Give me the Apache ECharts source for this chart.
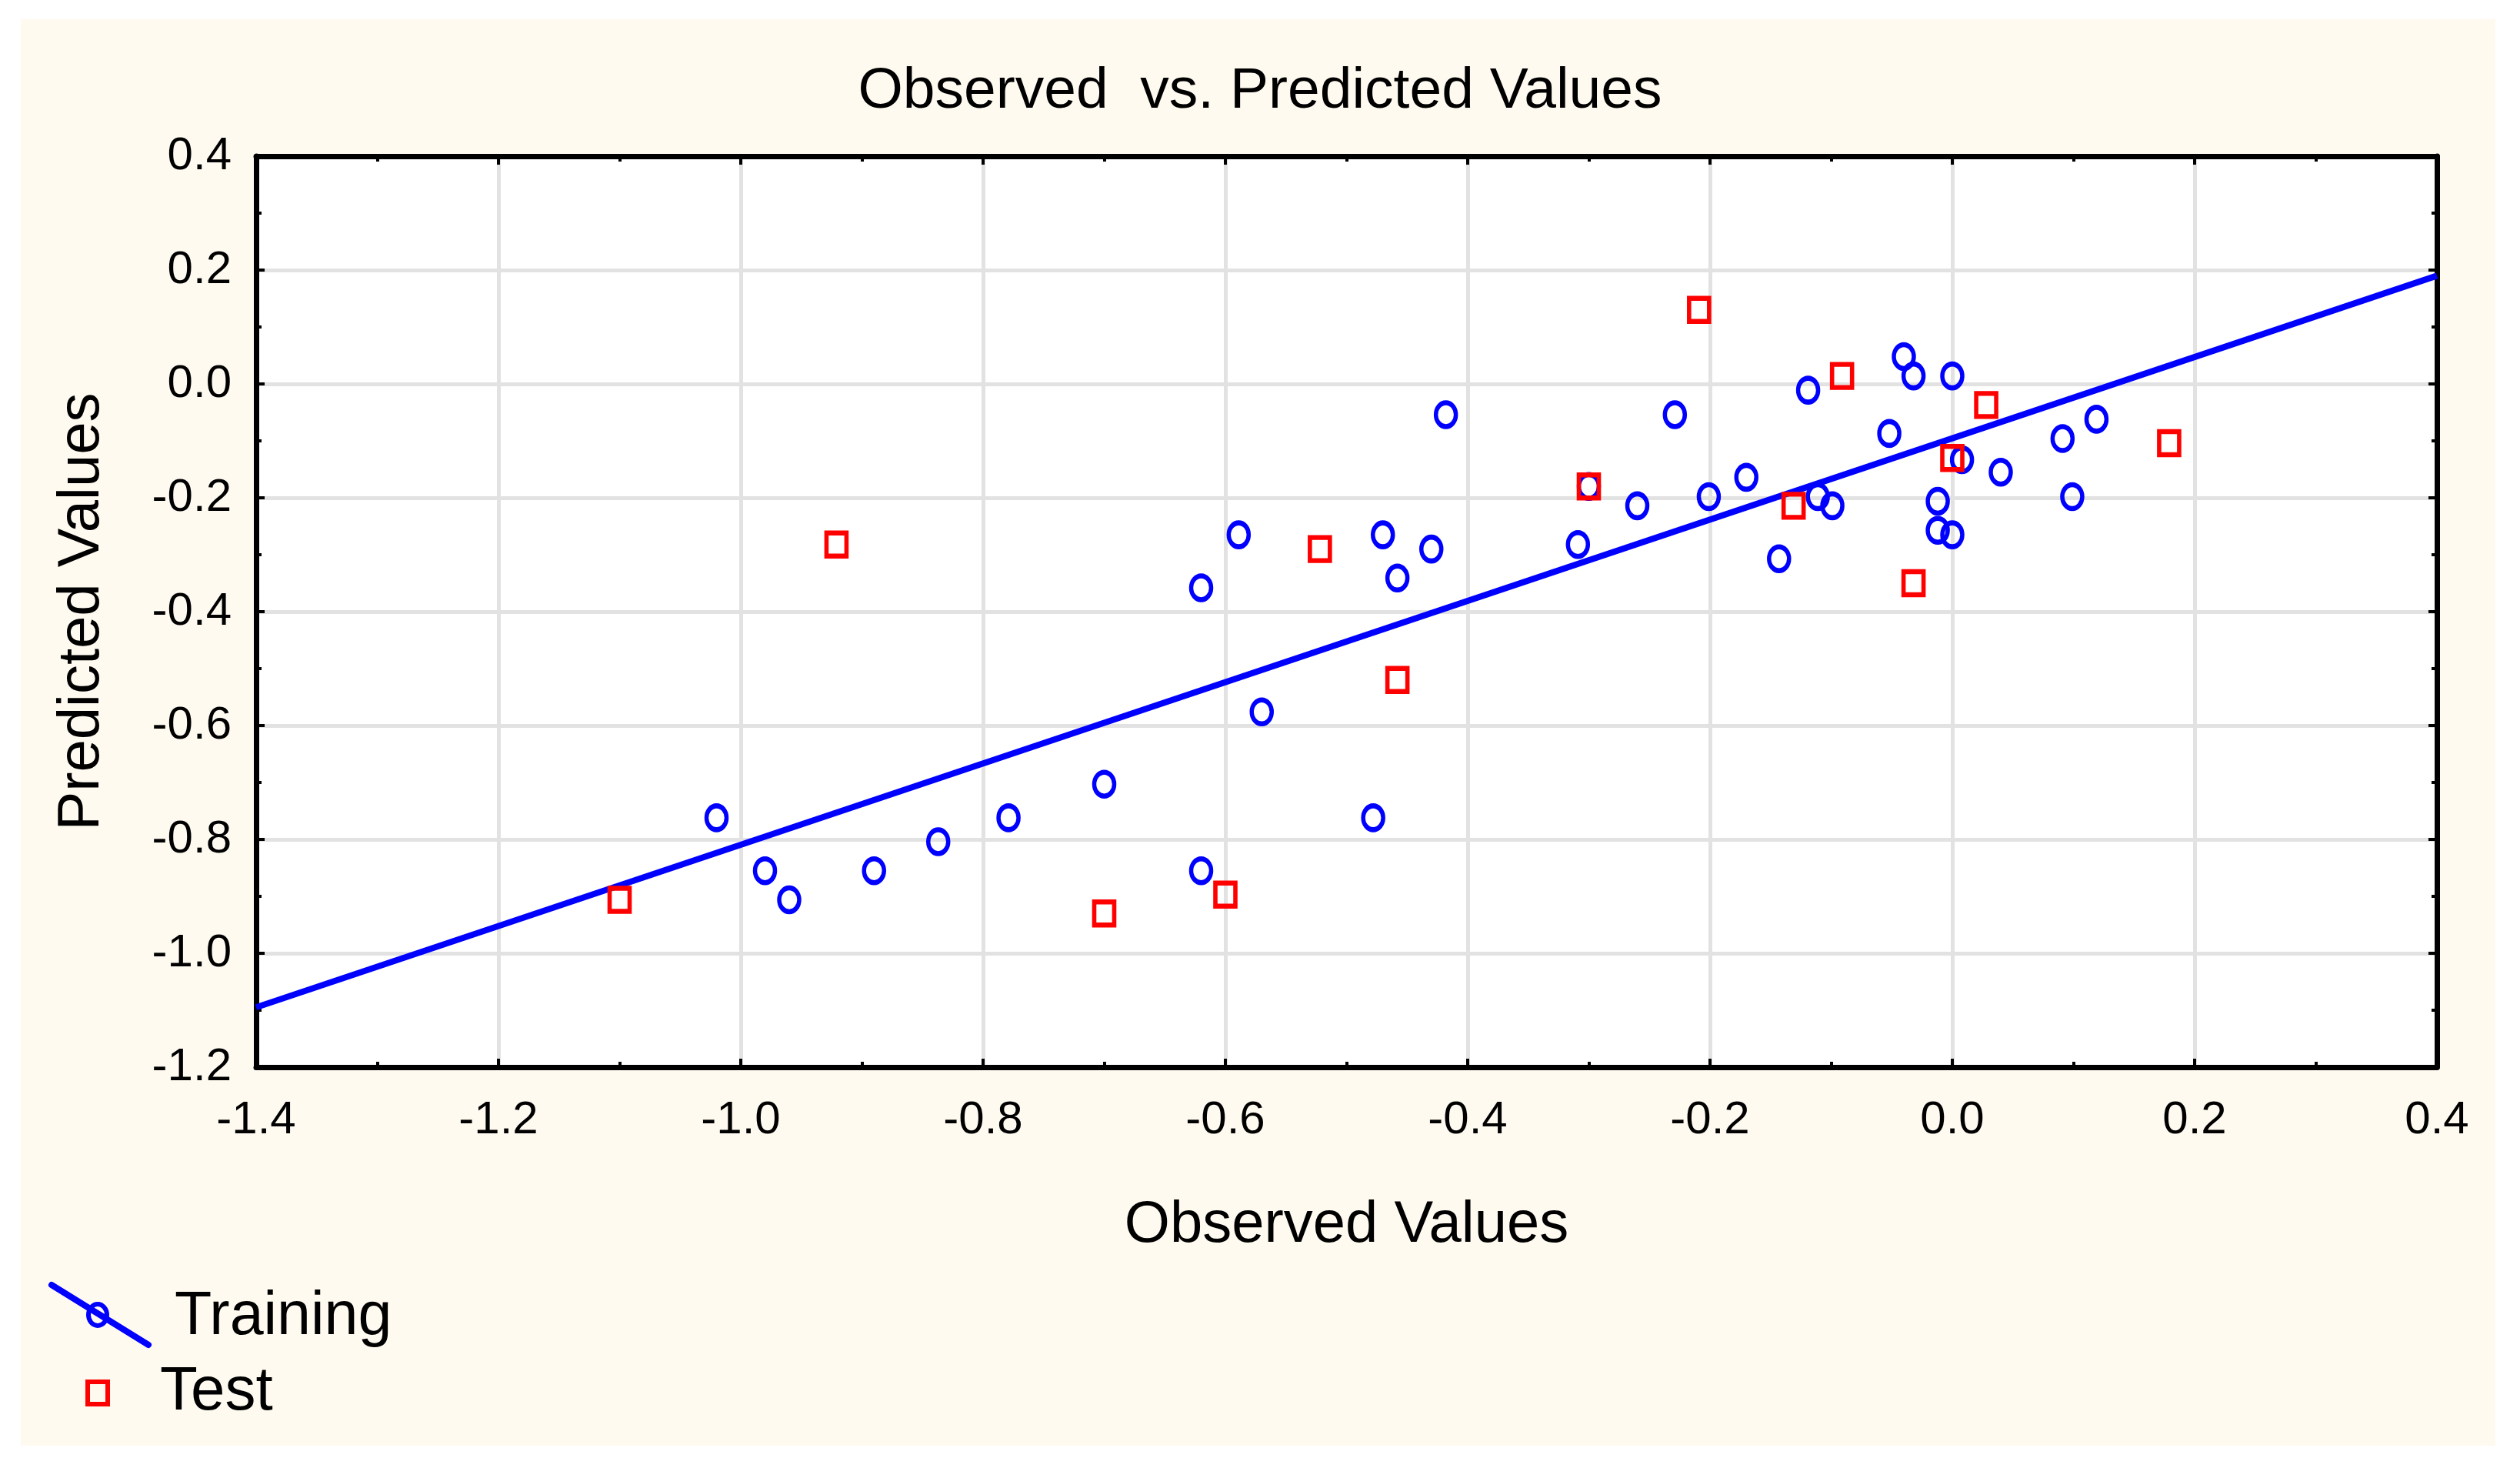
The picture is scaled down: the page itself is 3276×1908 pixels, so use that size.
<!DOCTYPE html>
<html>
<head>
<meta charset="utf-8">
<script src="https://cdn.jsdelivr.net/npm/echarts@6/dist/echarts.min.js"></script>
<style>
html,body{margin:0;padding:0;background:#ffffff;}
#chart{width:3276px;height:1908px;}
</style>
</head>
<body>
<div id="chart"></div>
<script>
// ---- data ----
const trainingX = [-1.02,-0.98,-0.96,-0.89,-0.837,-0.779,-0.70,-0.62,-0.62,-0.589,-0.57,-0.478,-0.47,-0.458,-0.43,-0.418,-0.309,-0.30,-0.26,-0.229,-0.201,-0.17,-0.143,-0.119,-0.111,-0.099,-0.052,-0.04,-0.032,-0.012,-0.012,0.0,0.0,0.008,0.04,0.091,0.099,0.119];
const trainingY = [-0.762,-0.855,-0.906,-0.855,-0.804,-0.762,-0.703,-0.855,-0.358,-0.265,-0.576,-0.762,-0.265,-0.341,-0.29,-0.054,-0.282,-0.18,-0.214,-0.054,-0.198,-0.164,-0.307,-0.011,-0.198,-0.214,-0.087,0.048,0.014,-0.206,-0.257,0.014,-0.265,-0.133,-0.155,-0.096,-0.198,-0.062];
const testX = [-1.10,-0.921,-0.70,-0.60,-0.522,-0.458,-0.30,-0.209,-0.131,-0.091,-0.032,0.0,0.028,0.179];
const testY = [-0.906,-0.282,-0.93,-0.897,-0.29,-0.52,-0.18,0.13,-0.214,0.014,-0.35,-0.13,-0.037,-0.104];
const fitX = [-1.4, 0.4];
const fitY = [-1.095, 0.19];
const xTicks = {min:-1.4, max:0.4, step:0.2};
const yTicks = {min:-1.2, max:0.4, step:0.2};
const titleText = 'Observed  vs. Predicted Values';
const xName = 'Observed Values';
const yName = 'Predicted Values';
const seriesNames = ['Training','Test'];

const zip = (a,b) => a.map((v,i)=>[v,b[i]]);
const FONT = '"Liberation Sans", Arial, sans-serif';
const fmt = v => (Math.abs(v) < 1e-9 ? 0 : v).toFixed(1);

const chart = echarts.init(document.getElementById('chart'), null, {renderer:'canvas'});

function axisCommon(extra){
  return Object.assign({
    axisLine:{show:true, onZero:false, lineStyle:{color:'#000', width:7}},
    axisTick:{show:true, inside:true, length:11, lineStyle:{color:'#000', width:4}},
    minorTick:{show:true, splitNumber:2, length:7, lineStyle:{color:'#000', width:4}},
    splitLine:{show:false},
    axisLabel:{show:false}
  }, extra);
}

const option = {
  backgroundColor:'#ffffff',
  animation:false,
  graphic:[
    {type:'rect', z:-10, silent:true, shape:{x:27, y:25, width:3217, height:1854}, style:{fill:'#FFFAF0'}},
    // legend
    {type:'line', z:10, shape:{x1:67, y1:1670, x2:193, y2:1748}, style:{stroke:'#0000FF', lineWidth:8, lineCap:'round'}},
    {type:'ellipse', z:11, shape:{cx:127, cy:1709, rx:12, ry:14}, style:{fill:'rgba(0,0,0,0)', stroke:'#0000FF', lineWidth:6}},
    {type:'text', z:11, style:{x:227, y:1712, text:seriesNames[0], font:'79px '+FONT, fill:'#000', textVerticalAlign:'middle', verticalAlign:'middle'}},
    {type:'rect', z:11, shape:{x:114, y:1796, width:26, height:29}, style:{fill:'rgba(0,0,0,0)', stroke:'#FF0000', lineWidth:6}},
    {type:'text', z:11, style:{x:208, y:1810, text:seriesNames[1], font:'80px '+FONT, fill:'#000', textVerticalAlign:'middle', verticalAlign:'middle'}}
  ],
  title:{
    text:titleText, left:'center', top:77,
    textStyle:{fontFamily:FONT, fontSize:75, fontWeight:'normal', color:'#000'}
  },
  grid:{left:333, top:203, right:108, bottom:521, show:true, backgroundColor:'#ffffff', borderWidth:0},
  xAxis:[
    axisCommon({
      type:'value', position:'bottom', min:xTicks.min, max:xTicks.max, interval:xTicks.step,
      name:xName, nameLocation:'middle', nameGap:168,
      nameTextStyle:{fontFamily:FONT, fontSize:76, color:'#000'},
      axisLabel:{show:true, formatter:fmt, margin:39, fontFamily:FONT, fontSize:60, color:'#000'},
      splitLine:{show:true, showMinLine:false, showMaxLine:false, lineStyle:{color:'#E2E2E2', width:5}}
    }),
    axisCommon({type:'value', position:'top', min:xTicks.min, max:xTicks.max, interval:xTicks.step})
  ],
  yAxis:[
    axisCommon({
      type:'value', position:'left', min:yTicks.min, max:yTicks.max, interval:yTicks.step,
      name:yName, nameLocation:'middle', nameGap:188,
      nameTextStyle:{fontFamily:FONT, fontSize:76, color:'#000'},
      axisLabel:{show:true, formatter:fmt, margin:32, fontFamily:FONT, fontSize:60, color:'#000'},
      splitLine:{show:true, showMinLine:false, showMaxLine:false, lineStyle:{color:'#E2E2E2', width:5}}
    }),
    axisCommon({type:'value', position:'right', min:yTicks.min, max:yTicks.max, interval:yTicks.step})
  ],
  series:[
    {
      name:'Fit', type:'line', data:zip(fitX, fitY), showSymbol:false, symbol:'none',
      lineStyle:{color:'#0000FF', width:8}, z:3, silent:true
    },
    {
      name:seriesNames[0], type:'scatter', data:zip(trainingX, trainingY),
      symbol:'circle', symbolSize:[26,31],
      itemStyle:{color:'rgba(0,0,0,0)', borderColor:'#0000FF', borderWidth:6, opacity:1}, z:4
    },
    {
      name:seriesNames[1], type:'scatter', data:zip(testX, testY),
      symbol:'rect', symbolSize:[26,30],
      itemStyle:{color:'rgba(0,0,0,0)', borderColor:'#FF0000', borderWidth:6, opacity:1}, z:5
    }
  ]
};
chart.setOption(option);
</script>
</body>
</html>
